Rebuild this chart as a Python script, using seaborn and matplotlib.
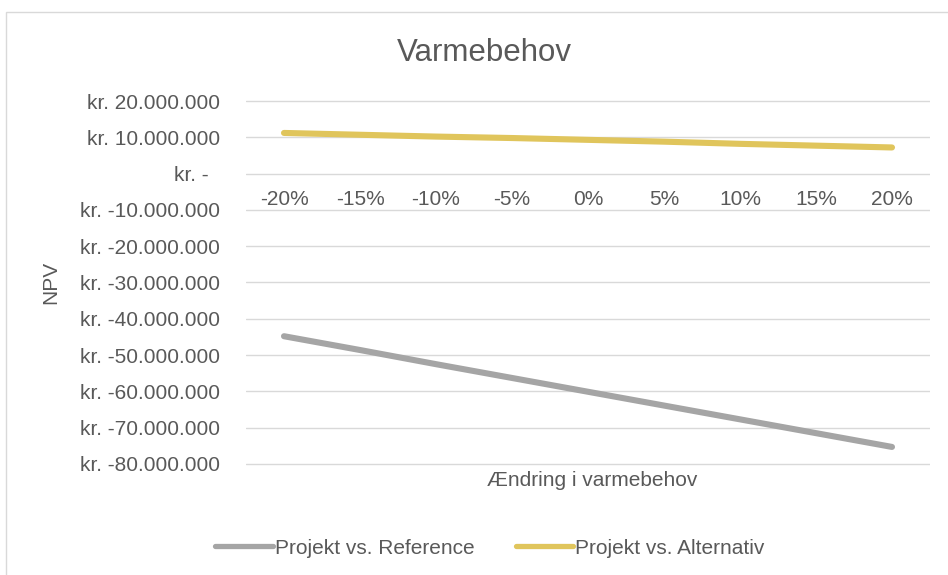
import pandas as pd
import numpy as np
import seaborn as sns
import matplotlib.pyplot as plt
from matplotlib.patches import Rectangle
from matplotlib.ticker import FuncFormatter

sns.set_theme(style="white")
plt.rcParams['font.family'] = ['Liberation Sans', 'DejaVu Sans']

# data
aendring = ['-20%', '-15%', '-10%', '-5%', '0%', '5%', '10%', '15%', '20%']
ref_npv = [-44.8e6, -48.6e6, -52.5e6, -56.3e6, -60.1e6, -63.9e6, -67.7e6, -71.5e6, -75.3e6]
alt_npv = [11.2e6, 10.7e6, 10.2e6, 9.8e6, 9.3e6, 8.8e6, 8.2e6, 7.7e6, 7.2e6]
serie_navne = ['Projekt vs. Reference', 'Projekt vs. Alternativ']
y_ticks = list(range(-80_000_000, 20_000_001, 10_000_000))

df = pd.DataFrame({
    'Ændring': aendring * 2,
    'NPV': ref_npv + alt_npv,
    'Serie': [serie_navne[0]] * len(aendring) + [serie_navne[1]] * len(aendring),
})

tekst = '#595959'
farver = {serie_navne[0]: '#A5A5A5', serie_navne[1]: '#E0C55C'}

fig = plt.figure(figsize=(9.48, 5.75), dpi=100)
ax = fig.add_axes([0.2595, 0.1899, 0.7215, 0.6376])

sns.lineplot(data=df, x='Ændring', y='NPV', hue='Serie', palette=farver,
             linewidth=4.4, sort=False, ax=ax, legend=True)
for ln in ax.lines:
    ln.set_solid_capstyle('round')

ax.set_xlim(-0.5, len(aendring) - 0.5)
ax.set_ylim(-80_500_000, 20_500_000)
ax.set_yticks(y_ticks)


def kr(v, pos):
    if abs(v) < 1:
        return 'kr. -  '
    s = f'{abs(v):,.0f}'.replace(',', '.')
    return f'kr. -{s}' if v < 0 else f'kr. {s}'


ax.yaxis.set_major_formatter(FuncFormatter(kr))
ax.yaxis.grid(True, color='#D9D9D9', linewidth=1.0)
ax.set_axisbelow(True)
for side in ['top', 'right', 'left', 'bottom']:
    ax.spines[side].set_visible(False)
ax.spines['bottom'].set_position(('data', 0))
ax.tick_params(axis='x', length=0, pad=12, labelsize=15, labelcolor=tekst)
ax.tick_params(axis='y', length=0, pad=18.5, labelsize=15, labelcolor=tekst)

ax.set_xlabel('')
ax.set_ylabel('')
fig.text(592 / 948, 1 - 481 / 575, 'Ændring i varmebehov', ha='center', va='center',
         fontsize=15, color=tekst)
fig.text(51 / 948, 1 - 282 / 575, 'NPV', rotation=90, ha='center', va='center',
         fontsize=15, color=tekst)
fig.text(484 / 948, 1 - 53 / 575, 'Varmebehov', ha='center', va='center',
         fontsize=22.5, color=tekst)

h, l = ax.get_legend_handles_labels()
ax.legend_.remove()
leg = fig.legend(h, l, loc='center', bbox_to_anchor=(490 / 948, 1 - 548 / 575), ncol=2,
                 frameon=False, fontsize=15, handlelength=2.75, handletextpad=0.1,
                 columnspacing=2.0)
for t in leg.get_texts():
    t.set_color(tekst)
for lh in leg.get_lines():
    lh.set_linewidth(3.8)

# chart border (cropped on right and bottom)
fig.patches.append(Rectangle((5.5 / 948, -0.1), 1.2, 1 - 12 / 575 + 0.1, transform=fig.transFigure,
                             fill=False, edgecolor='#D9D9D9', linewidth=1.0))

fig.savefig('out.png', dpi=100)
